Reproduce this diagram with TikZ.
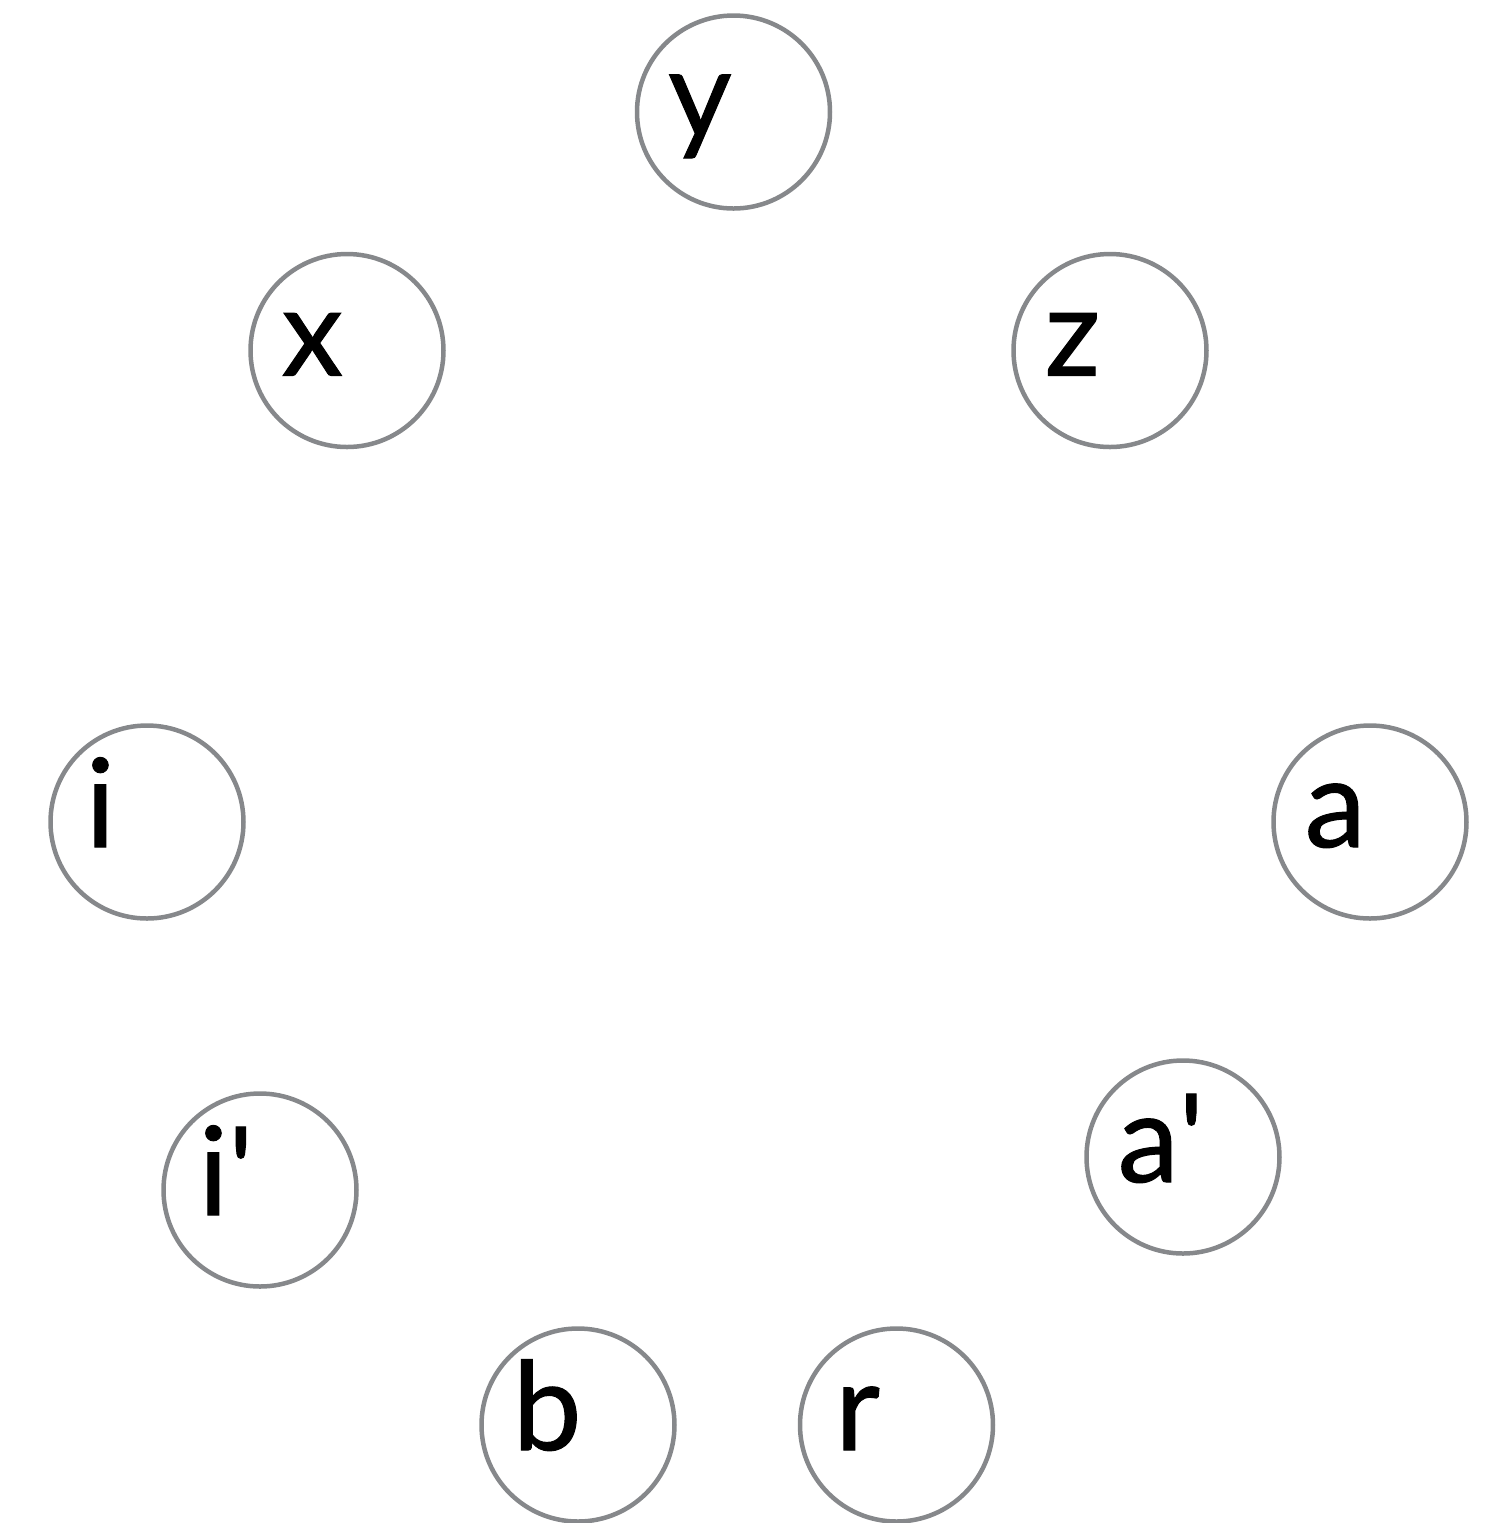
\documentclass[tikz,border=0pt]{standalone}
\usepackage{fontspec}
\setmainfont{Lato}
\newfontfamily\lblfont{Lato}[FakeBold=0.8]
\usepackage{tikz}
\usetikzlibrary{positioning}
\usetikzlibrary{calc}

\definecolor{ringgray}{HTML}{86888B}

\tikzset{
    ring/.style={circle, draw=ringgray, line width=0.045cm, minimum size=1.93cm, inner sep=0pt},
    lbl/.style={anchor=base west, inner sep=0pt, font=\lblfont\fontsize{35}{40}\selectfont}
}

\begin{document}
\begin{tikzpicture}
    \useasboundingbox (0,0) rectangle (14.97,-15.23);

    % top three
    \node [ring] (y) at (7.335,-1.12) {};
    \node [ring] (x) at (3.47,-3.505) {};
    \node [ring] (z) at (11.10,-3.505) {};

    % middle row
    \node [ring] (i) at (1.47,-8.22) {};
    \node [ring] (a) at (13.70,-8.22) {};

    % lower ones
    \node [ring] (ip) at (2.60,-11.90) {};
    \node [ring] (ap) at (11.83,-11.57) {};
    \node [ring] (b) at (5.78,-14.25) {};
    \node [ring, right=1.21cm of b] (r) {};

    % letters, set a bit left of centre
    \node [lbl] (ytext) at ($(y.center)+(-0.66,-0.25)$) {y};
    \node [lbl] (xtext) at ($(x.center)+(-0.66,-0.25)$) {x};
    \node [lbl] (ztext) at ($(z.center)+(-0.66,-0.25)$) {z};
    \node [lbl] (itext) at ($(i.center)+(-0.62,-0.25)$) {i};
    \node [lbl] (atext) at ($(a.center)+(-0.66,-0.25)$) {a};
    \node [lbl] (iptext) at ($(ip.center)+(-0.62,-0.25)$) {i\textquotesingle};
    \node [lbl] (aptext) at ($(ap.center)+(-0.66,-0.25)$) {a\textquotesingle};
    \node [lbl] (btext) at ($(b.center)+(-0.66,-0.25)$) {b};
    \node [lbl] (rtext) at ($(r.center)+(-0.62,-0.25)$) {r};
\end{tikzpicture}
\end{document}
